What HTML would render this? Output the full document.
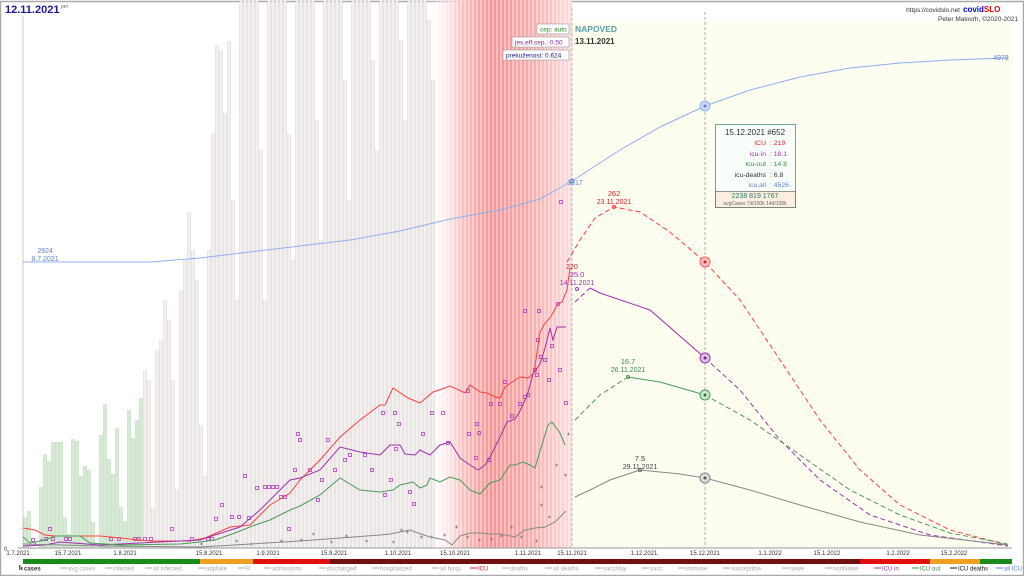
<!DOCTYPE html>
<html><head><meta charset="utf-8"><style>
html,body{margin:0;padding:0;background:#fff;}
svg{display:block;font-family:"Liberation Sans",sans-serif;}
</style></head><body>
<svg width="1024" height="576" viewBox="0 0 1024 576" xmlns="http://www.w3.org/2000/svg">
<defs>
<linearGradient id="rg" x1="0" x2="1" y1="0" y2="0">
<stop offset="0" stop-color="#fff" stop-opacity="0"/>
<stop offset="0.25" stop-color="#f8c4c4"/>
<stop offset="0.45" stop-color="#f29494"/>
<stop offset="0.7" stop-color="#f5aaaa"/>
<stop offset="1" stop-color="#fbdede"/>
</linearGradient>
</defs>
<rect x="0" y="0" width="1024" height="576" fill="#fff"/>
<rect x="0.5" y="1.5" width="1023" height="574" fill="none" stroke="#aaa" stroke-width="1.5"/>
<rect x="572" y="22" width="441" height="526" fill="#fdfdf0"/>
<rect x="425" y="0" width="147" height="548" fill="url(#rg)"/>

<!-- green bars -->
<path id="gb" d="M25 548V517M29 548V511M41 548V487M45 548V454M49 548V461M53 548V442M57 548V442M61 548V442M65 548V517M69 548V534M73 548V439M77 548V441M81 548V476M85 548V466M89 548V470M93 548V522M101 548V435M105 548V404M109 548V459M113 548V474M117 548V428M121 548V507M125 548V521M129 548V410M133 548V438M137 548V420M141 548V398" stroke="#b8d6b8" stroke-width="3.4" fill="none"/>
<path d="M25 548V517M29 548V511M41 548V487M45 548V454M49 548V461M53 548V442M57 548V442M61 548V442M65 548V517M69 548V534M73 548V439M77 548V441M81 548V476M85 548V466M89 548V470M93 548V522M101 548V435M105 548V404M109 548V459M113 548V474M117 548V428M121 548V507M125 548V521M129 548V410M133 548V438M137 548V420M141 548V398" stroke="#d8ead6" stroke-width="2.2" fill="none"/>
<!-- gray bars -->
<path id="wb" d="M145 548V370M149 548V380M153 548V508M157 548V350M161 548V340M165 548V300M169 548V320M173 548V380M177 548V489M181 548V290M185 548V260M189 548V212M193 548V250M197 548V280M201 548V425M205 548V475M209 548V250M213 548V133M217 548V45M221 548V50M225 548V113M229 548V41M233 548V200M237 548V300M241 548V0M245 548V0M249 548V0M253 548V0M257 548V0M261 548V150M265 548V300M269 548V0M273 548V0M277 548V0M281 548V0M285 548V0M289 548V134M293 548V260M297 548V0M301 548V0M305 548V0M309 548V0M313 548V0M317 548V120M321 548V240M325 548V0M329 548V0M333 548V0M337 548V0M341 548V0M345 548V80M349 548V200M353 548V0M357 548V0M361 548V0M365 548V0M369 548V0M373 548V60M377 548V150M381 548V0M385 548V0M389 548V0M393 548V0M397 548V0M401 548V40M405 548V120M409 548V0M413 548V0M417 548V0M421 548V0M425 548V0M429 548V20M433 548V80" stroke="#ddd5d5" stroke-width="3.4" fill="none"/>
<path d="M145 548V370M149 548V380M153 548V508M157 548V350M161 548V340M165 548V300M169 548V320M173 548V380M177 548V489M181 548V290M185 548V260M189 548V212M193 548V250M197 548V280M201 548V425M205 548V475M209 548V250M213 548V133M217 548V45M221 548V50M225 548V113M229 548V41M233 548V200M237 548V300M241 548V0M245 548V0M249 548V0M253 548V0M257 548V0M261 548V150M265 548V300M269 548V0M273 548V0M277 548V0M281 548V0M285 548V0M289 548V134M293 548V260M297 548V0M301 548V0M305 548V0M309 548V0M313 548V0M317 548V120M321 548V240M325 548V0M329 548V0M333 548V0M337 548V0M341 548V0M345 548V80M349 548V200M353 548V0M357 548V0M361 548V0M365 548V0M369 548V0M373 548V60M377 548V150M381 548V0M385 548V0M389 548V0M393 548V0M397 548V0M401 548V40M405 548V120M409 548V0M413 548V0M417 548V0M421 548V0M425 548V0M429 548V20M433 548V80" stroke="#f4f0f0" stroke-width="2.2" fill="none"/>
<!-- red-region bar separators -->
<path d="M437 548V0M441 548V0M445 548V0M449 548V0M453 548V0M457 548V0M461 548V0M465 548V0M469 548V0M473 548V0M477 548V0M481 548V0M485 548V0M489 548V0M493 548V0M497 548V0M501 548V0M505 548V0M509 548V0M513 548V0M517 548V0M521 548V0M525 548V0M529 548V0M533 548V0M537 548V0M541 548V0M545 548V0M549 548V0M553 548V0M557 548V0M561 548V0M565 548V0M569 548V0" stroke="#fff" stroke-opacity="0.45" stroke-width="1.6" fill="none"/>

<line x1="23" y1="16" x2="23" y2="548" stroke="#ccc"/>
<line x1="572" y1="8" x2="572" y2="548" stroke="#bbb" stroke-dasharray="3,2"/>
<line x1="705" y1="12" x2="705" y2="548" stroke="#999" stroke-dasharray="3,2" stroke-width="0.8"/>
<line x1="18" y1="548" x2="1012" y2="548" stroke="#999"/>

<!-- purple square markers -->
<g fill="none" stroke="#b030c0" stroke-width="0.7">
<path d="M31.5 538.5h3v3h-3zM48.5 527.5h3v3h-3zM44.5 537.5h3v3h-3zM51.5 537.5h3v3h-3zM64.5 537.5h3v3h-3zM68.5 537.5h3v3h-3zM109.5 537.5h3v3h-3zM117.5 537.5h3v3h-3zM133.5 537.5h3v3h-3zM137.5 537.5h3v3h-3zM143.5 537.5h3v3h-3zM149.5 537.5h3v3h-3zM170.5 527.5h3v3h-3zM190.5 537.5h3v3h-3zM206.5 537.5h3v3h-3zM210.5 537.5h3v3h-3zM214.5 517.5h3v3h-3zM220.5 503.5h3v3h-3zM230.5 515.5h3v3h-3zM237.5 515.5h3v3h-3zM243.5 474.5h3v3h-3zM247.5 516.5h3v3h-3zM255.5 486.5h3v3h-3zM263.5 485.5h3v3h-3zM267.5 485.5h3v3h-3zM271.5 485.5h3v3h-3zM275.5 485.5h3v3h-3zM279.5 495.5h3v3h-3zM283.5 495.5h3v3h-3zM287.5 527.5h3v3h-3zM293.5 468.5h3v3h-3zM296.5 432.5h3v3h-3z"/>
<path d="M298.5 438.5h3v3h-3zM308.5 468.5h3v3h-3zM316.5 498.5h3v3h-3zM320.5 478.5h3v3h-3zM326.5 438.5h3v3h-3zM333.5 468.5h3v3h-3zM343.5 458.5h3v3h-3zM348.5 453.5h3v3h-3zM363.5 453.5h3v3h-3zM370.5 468.5h3v3h-3zM381.5 411.5h3v3h-3zM393.5 411.5h3v3h-3zM397.5 422.5h3v3h-3zM383.5 493.5h3v3h-3zM389.5 478.5h3v3h-3zM394.5 447.5h3v3h-3zM408.5 490.5h3v3h-3zM412.5 502.5h3v3h-3zM421.5 432.5h3v3h-3zM430.5 411.5h3v3h-3zM441.5 411.5h3v3h-3zM446.5 441.5h3v3h-3zM467.5 432.5h3v3h-3zM466.5 389.5h3v3h-3zM474.5 456.5h3v3h-3zM475.5 422.5h3v3h-3zM477.5 431.5h3v3h-3zM487.5 458.5h3v3h-3zM489.5 402.5h3v3h-3zM498.5 402.5h3v3h-3zM503.5 380.5h3v3h-3zM510.5 414.5h3v3h-3zM518.5 402.5h3v3h-3zM523.5 395.5h3v3h-3zM526.5 393.5h3v3h-3zM533.5 368.5h3v3h-3zM535.5 373.5h3v3h-3zM536.5 338.5h3v3h-3zM539.5 355.5h3v3h-3zM543.5 358.5h3v3h-3zM547.5 378.5h3v3h-3zM550.5 344.5h3v3h-3zM523.5 309.5h3v3h-3zM537.5 309.5h3v3h-3zM556.5 302.5h3v3h-3zM558.5 368.5h3v3h-3zM559.5 200.5h3v3h-3zM564.5 401.5h3v3h-3z"/>
</g>
<!-- gray star markers -->
<g stroke="#777" stroke-width="0.7">
<path d="M34 544h3M35.5 542.5v3M40 540h3M41.5 538.5v3M200 544h3M201.5 542.5v3M235 541h3M236.5 539.5v3M250 544h3M251.5 542.5v3M280 541h3M281.5 539.5v3M300 540h3M301.5 538.5v3M312 534h3M313.5 532.5v3M330 542h3M331.5 540.5v3M345 536h3M346.5 534.5v3M365 541h3M366.5 539.5v3M400 530h3M401.5 528.5v3M406 532h3M407.5 530.5v3M392 542h3M393.5 540.5v3M420 537h3M421.5 535.5v3M430 537h3M431.5 535.5v3M443 535h3M444.5 533.5v3M455 527h3M456.5 525.5v3M466 537h3M467.5 535.5v3M478 540h3M479.5 538.5v3M490 539h3M491.5 537.5v3M500 536h3M501.5 534.5v3M510 527h3M511.5 525.5v3M520 537h3M521.5 535.5v3M540 505h3M541.5 503.5v3M548 517h3M549.5 515.5v3M540 487h3M541.5 485.5v3M555 465h3M556.5 463.5v3M564 475h3M565.5 473.5v3M567 434h3M568.5 432.5v3M535 541h3M536.5 539.5v3"/>
</g>

<!-- blue all ICU -->
<polyline fill="none" stroke="#8fb0f0" stroke-width="1" points="23,262 150,262 200,258 250,252 300,246 350,240 400,231 450,219 500,210 540,199 572,181 620,150 660,127 705,106 750,90 800,77 850,68 900,63 950,60 1008,58"/>
<polyline fill="none" stroke="#ff4040" stroke-width="1" points="23,528 35,530 45,535 55,536 100,536 150,541 190,541 205,538 230,527 250,525 270,505 290,493 300,480 320,460 340,437 360,420 380,405 385,405 393,388 408,398 420,403 433,392 442,389 450,386 465,393 470,385 480,392 487,393 495,397 500,398 505,387 515,380 520,377 528,378 534,373 540,332 545,323 550,318 558,304 562,302 567,290 570,268"/>
<polyline fill="none" stroke="#ff4040" stroke-width="1" stroke-dasharray="5,3" points="567,262 580,240 595,218 614,207 640,212 670,232 705,262 740,300 780,360 820,420 860,470 900,505 950,530 1008,545"/>
<polyline fill="none" stroke="#a030b0" stroke-width="1" points="23,546 45,545 60,542 100,545 160,542 200,540 215,535 240,527 260,510 280,490 290,480 300,478 320,470 340,447 360,452 380,455 390,445 400,445 405,454 415,455 420,450 430,455 440,445 450,442 460,458 470,465 478,470 485,465 490,457 500,437 507,422 515,419 520,411 527,396 533,374 540,364 545,348 550,328 553,340 557,327 566,327"/>
<polyline fill="none" stroke="#a030b0" stroke-width="1" stroke-dasharray="5,3" points="575,302 590,288"/>
<polyline fill="none" stroke="#a030b0" stroke-width="1" points="590,288 600,293 650,310 705,358"/>
<polyline fill="none" stroke="#a030b0" stroke-width="1" stroke-dasharray="5,3" points="705,358 740,390 780,440 820,480 870,515 930,535 1008,546"/>
<polyline fill="none" stroke="#4a9a5a" stroke-width="1" points="23,537 30,543 45,540 55,536 80,536 90,543 120,545 180,544 200,542 215,540 235,533 255,525 270,520 290,510 300,506 320,495 340,478 360,490 380,492 393,490 400,485 413,482 420,488 427,485 430,478 440,482 450,477 460,480 470,490 480,494 490,483 500,480 510,465 515,465 523,462 530,465 535,468 540,451 548,425 552,422 560,433 565,445"/>
<polyline fill="none" stroke="#4a9a5a" stroke-width="1" stroke-dasharray="5,3" points="575,420 600,395 628,377"/>
<polyline fill="none" stroke="#4a9a5a" stroke-width="1" points="628,377 660,382 705,395"/>
<polyline fill="none" stroke="#4a9a5a" stroke-width="1" stroke-dasharray="5,3" points="705,395 750,420 800,455 850,490 900,515 950,533 1008,544"/>
<polyline fill="none" stroke="#888" stroke-width="1" points="23,544 100,546 200,547 300,541 380,535 390,534 400,532 410,530 415,532 430,537 445,540 452,545 460,536 470,533 480,533 490,534 500,534 515,537 525,530 535,528 545,527 555,522 566,511"/>
<polyline fill="none" stroke="#888" stroke-width="1" points="575,497 590,490 610,480 640,470 680,474 705,478 750,490 800,505 860,522 920,535 1008,545"/>
<g stroke-width="1">
<circle cx="705" cy="106" r="5" fill="#c8d8f8" stroke="#8fb0f0"/><circle cx="705" cy="106" r="1.5" fill="#6080d0"/>
<circle cx="705" cy="262" r="5" fill="#f8c0c0" stroke="#ff6060"/><circle cx="705" cy="262" r="1.5" fill="#d02020"/>
<circle cx="705" cy="358" r="5" fill="#e0c0e8" stroke="#a030b0"/><circle cx="705" cy="358" r="1.5" fill="#802090"/>
<circle cx="705" cy="395" r="5" fill="#c8e8c8" stroke="#4a9a5a"/><circle cx="705" cy="395" r="1.5" fill="#2a7a3a"/>
<circle cx="705" cy="478" r="5" fill="#ddd" stroke="#888"/><circle cx="705" cy="478" r="1.5" fill="#555"/>
<circle cx="572" cy="181" r="2" fill="none" stroke="#6080d0"/>
<circle cx="614" cy="207" r="1.5" fill="none" stroke="#ff4040"/>
<circle cx="628" cy="377" r="1.5" fill="none" stroke="#4a9a5a"/>
<circle cx="640" cy="470" r="1.5" fill="none" stroke="#666"/>
<circle cx="577" cy="289" r="1.5" fill="none" stroke="#a030b0"/>
</g>
<g font-size="7" text-anchor="middle">
<text x="45" y="253" fill="#6080d0">2924</text><text x="45" y="261" fill="#6080d0">8.7.2021</text>
<text x="1001" y="60" fill="#6080d0">4978</text>
<text x="575" y="185" fill="#6080d0">3817</text>
<text x="614" y="196" fill="#e02020" font-size="7.5">262</text><text x="614" y="204" fill="#e02020">23.11.2021</text>
<text x="572" y="269" fill="#e02020">220</text>
<text x="577" y="277" fill="#a030b0" font-size="7.5">25.0</text><text x="577" y="285" fill="#a030b0">14.11.2021</text>
<text x="628" y="364" fill="#3a8a4a" font-size="7.5">16.7</text><text x="628" y="372" fill="#3a8a4a">26.11.2021</text>
<text x="640" y="461" fill="#444" font-size="7.5">7.5</text><text x="640" y="469" fill="#444">29.11.2021</text>
</g>
<text x="5" y="13" font-size="11" font-weight="bold" fill="#1a1a9a">12.11.2021</text>
<text x="61" y="8" font-size="5" fill="#666">pet</text>
<text x="960" y="12" font-size="6.5" fill="#333" text-anchor="end">https://covidslo.net</text>
<text x="963" y="12" font-size="8" font-weight="bold" fill="#0000ee">covid<tspan fill="#ee0000">SLO</tspan></text>
<text x="1018" y="21" font-size="6.5" fill="#333" text-anchor="end">Peter Malovrh, ©2020-2021</text>
<g font-size="6.5">
<rect x="537" y="24" width="32" height="10" fill="#fff" stroke="#999" stroke-width="0.6"/><text x="540" y="31.5" fill="#2a8a2a">cep: auto</text>
<rect x="512" y="37" width="57" height="10" fill="#fff" stroke="#999" stroke-width="0.6"/><text x="515" y="44.5" fill="#7a2a9a">jes.eff.cep.: 0.50</text>
<rect x="503" y="50" width="66" height="10" fill="#fff" stroke="#999" stroke-width="0.6"/><text x="506" y="57.5" fill="#1a1a8a">prekuženost: 0.624</text>
</g>
<text x="575" y="32" font-size="8.5" font-weight="bold" fill="#5aa0a0">NAPOVED</text>
<text x="575" y="44" font-size="8" font-weight="bold" fill="#333">13.11.2021</text>
<rect x="715.5" y="124.5" width="80" height="83" fill="#f8fdfa" stroke="#6aa8a0"/>
<rect x="715.5" y="191.5" width="80" height="16" fill="#fbeee0" stroke="#555" stroke-width="0.6"/>
<g font-size="6.8">
<text x="755" y="135" text-anchor="middle" fill="#333" font-size="8">15.12.2021 #652</text>
<text x="766" y="145" text-anchor="end" fill="#ee2020">ICU</text><text x="770" y="145" fill="#ee2020">:  219</text>
<text x="766" y="156" text-anchor="end" fill="#a030b0">icu-in</text><text x="770" y="156" fill="#a030b0">:  18.1</text>
<text x="766" y="166" text-anchor="end" fill="#3a8a4a">icu-out</text><text x="770" y="166" fill="#3a8a4a">:  14.8</text>
<text x="766" y="177" text-anchor="end" fill="#333">icu-deaths</text><text x="770" y="177" fill="#333">:  6.8</text>
<text x="766" y="187" text-anchor="end" fill="#6080e0">icu.all</text><text x="770" y="187" fill="#6080e0">:  4526</text>
<text x="755" y="198" text-anchor="middle" fill="#2a7a6a" font-size="7">2238  819  1767</text>
<text x="755" y="205" text-anchor="middle" fill="#666" font-size="5">avgCases 7d/100k 14d/100k</text>
</g>
<g font-size="6" fill="#333" text-anchor="middle">
<text x="18" y="555">1.7.2021</text><text x="68" y="555">15.7.2021</text><text x="125" y="555">1.8.2021</text>
<text x="209" y="555">15.8.2021</text><text x="268" y="555">1.9.2021</text><text x="334" y="555">15.9.2021</text>
<text x="398" y="555">1.10.2021</text><text x="455" y="555">15.10.2021</text><text x="528" y="555">1.11.2021</text>
<text x="572" y="555">15.11.2021</text><text x="644" y="555">1.12.2021</text><text x="705" y="555">15.12.2021</text>
<text x="770" y="555">1.1.2022</text><text x="827" y="555">15.1.2022</text><text x="898" y="555">1.2.2022</text><text x="954" y="555">15.2.2022</text>
</g>
<text x="4" y="551" font-size="6" fill="#333">0</text>
<rect x="23" y="559" width="177" height="5" fill="#1a8a1a"/>
<rect x="200" y="559" width="53" height="5" fill="#f0a020"/>
<rect x="253" y="559" width="77" height="5" fill="#e01010"/>
<rect x="330" y="559" width="530" height="5" fill="#701010"/>
<rect x="860" y="559" width="70" height="5" fill="#e01010"/>
<rect x="930" y="559" width="50" height="5" fill="#f0a020"/>
<rect x="980" y="559" width="32" height="5" fill="#1a8a1a"/>
<!-- legend -->
<g font-size="6">
<rect x="19" y="565" width="1.5" height="5" fill="#2a8a2a"/><rect x="21" y="567" width="1.5" height="3" fill="#d02020"/>
<text x="24" y="570.5" fill="#333" font-weight="bold">cases</text>
<g stroke-width="1">
<line x1="60" y1="568" x2="67" y2="568" stroke="#aaa"/><line x1="105" y1="568" x2="112" y2="568" stroke="#aaa"/><line x1="145" y1="568" x2="152" y2="568" stroke="#aaa"/><line x1="198" y1="568" x2="205" y2="568" stroke="#aaa"/><line x1="238" y1="568" x2="245" y2="568" stroke="#aaa"/><line x1="264" y1="568" x2="271" y2="568" stroke="#aaa"/><line x1="319" y1="568" x2="326" y2="568" stroke="#aaa"/><line x1="372" y1="568" x2="379" y2="568" stroke="#aaa"/><line x1="432" y1="568" x2="439" y2="568" stroke="#aaa"/><line x1="470" y1="568" x2="477" y2="568" stroke="#ee2020"/><line x1="502" y1="568" x2="509" y2="568" stroke="#aaa"/><line x1="545" y1="568" x2="552" y2="568" stroke="#aaa"/><line x1="595" y1="568" x2="602" y2="568" stroke="#aaa"/><line x1="642" y1="568" x2="649" y2="568" stroke="#aaa"/><line x1="678" y1="568" x2="685" y2="568" stroke="#aaa"/><line x1="723" y1="568" x2="730" y2="568" stroke="#aaa"/><line x1="782" y1="568" x2="789" y2="568" stroke="#aaa"/><line x1="825" y1="568" x2="832" y2="568" stroke="#aaa"/><line x1="874" y1="568" x2="881" y2="568" stroke="#a030b0"/><line x1="912" y1="568" x2="919" y2="568" stroke="#3a8a4a"/><line x1="950" y1="568" x2="957" y2="568" stroke="#111"/><line x1="996" y1="568" x2="1003" y2="568" stroke="#6080e0"/>
</g>
<text x="68" y="570.5" fill="#aaa">avg.cases</text><text x="113" y="570.5" fill="#aaa">infected</text><text x="153" y="570.5" fill="#aaa">all infected</text><text x="206" y="570.5" fill="#aaa">odplake</text><text x="246" y="570.5" fill="#aaa">R</text><text x="272" y="570.5" fill="#aaa">admissions</text><text x="327" y="570.5" fill="#aaa">discharged</text><text x="380" y="570.5" fill="#aaa">hospitalized</text><text x="440" y="570.5" fill="#aaa">all hosp.</text><text x="478" y="570.5" fill="#ee2020">ICU</text><text x="510" y="570.5" fill="#aaa">deaths</text><text x="553" y="570.5" fill="#aaa">all deaths</text><text x="603" y="570.5" fill="#aaa">vacc/day</text><text x="650" y="570.5" fill="#aaa">vacc</text><text x="686" y="570.5" fill="#aaa">immune</text><text x="731" y="570.5" fill="#aaa">susceptible</text><text x="790" y="570.5" fill="#aaa">naive</text><text x="833" y="570.5" fill="#aaa">nonNaive</text><text x="882" y="570.5" fill="#a030b0">ICU in</text><text x="920" y="570.5" fill="#3a8a4a">ICU out</text><text x="958" y="570.5" fill="#111">ICU deaths</text><text x="1004" y="570.5" fill="#6080e0">all ICU</text>
</g>
</svg>
</body></html>
